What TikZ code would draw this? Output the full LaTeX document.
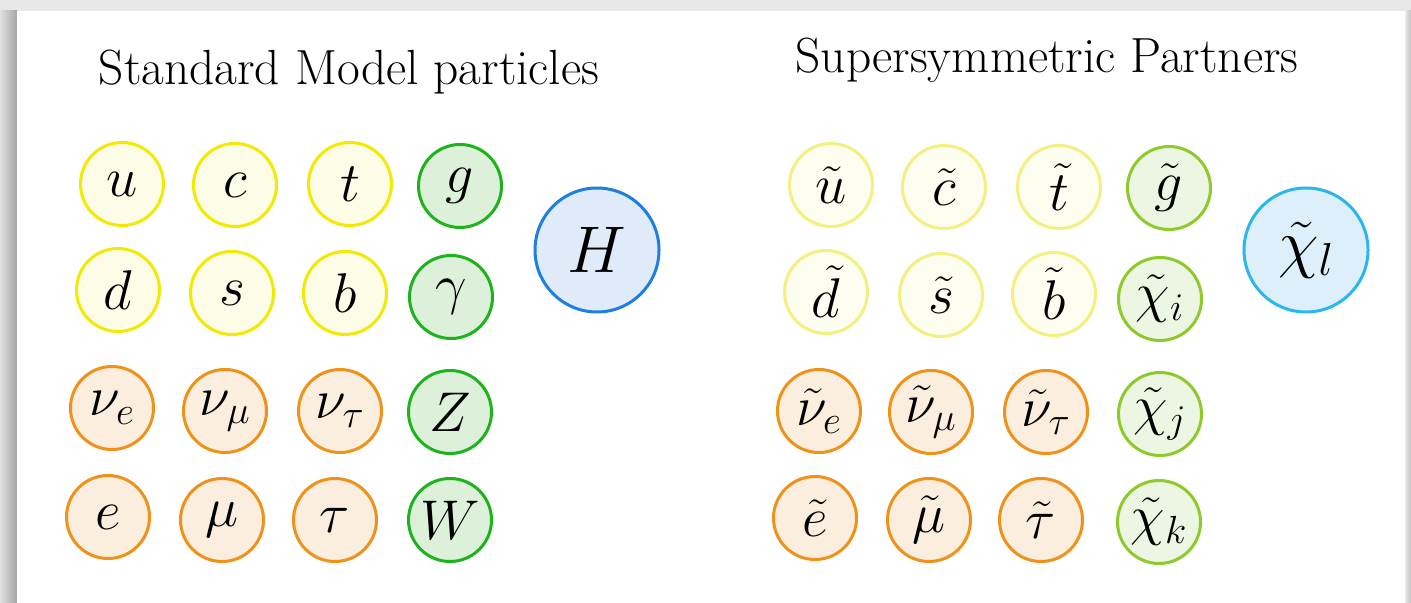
\RequirePackage{fix-cm}
\documentclass[tikz,border=0pt]{standalone}
\usepackage{fontspec}
\definecolor{qline}{HTML}{F2EA00}
\definecolor{qfill}{HTML}{FDFCE6}
\definecolor{bline}{HTML}{1DB31D}
\definecolor{bfill}{HTML}{DDF1DA}
\definecolor{lline}{HTML}{F0921A}
\definecolor{lfill}{HTML}{FBEEDF}
\definecolor{hline}{HTML}{1E7FE0}
\definecolor{hfill}{HTML}{E0EBF9}
\definecolor{sqline}{HTML}{F3EF80}
\definecolor{sqfill}{HTML}{FDFDF0}
\definecolor{sbline}{HTML}{8CCB2A}
\definecolor{sbfill}{HTML}{EDF6E2}
\definecolor{nline}{HTML}{2BB7EA}
\definecolor{nfill}{HTML}{DDEFFA}
\definecolor{outer}{HTML}{E8E8E8}
\begin{document}
\begin{tikzpicture}[x=0.5pt,y=-0.5pt,
  particle/.style={circle, line width=1.5pt, minimum size=41.5pt, inner sep=0pt,
    font=\fontsize{28}{30}\selectfont},
  big/.style={particle, minimum size=62pt, font=\fontsize{33}{35}\selectfont},
  quark/.style={particle, draw=qline, fill=qfill},
  boson/.style={particle, draw=bline, fill=bfill},
  lepton/.style={particle, draw=lline, fill=lfill},
  squark/.style={particle, draw=sqline, fill=sqfill},
  sboson/.style={particle, draw=sbline, fill=sbfill},
  title/.style={font=\fontsize{24.7}{28}\selectfont, inner sep=0pt}]
% background and card
\fill[outer] (0,0) rectangle (1411,603);
\shade[left color=black!12, right color=black!35] (0,11) rectangle (17,603);
\shade[left color=black!8, right color=black!25] (1405,11) rectangle (1411,603);
\fill[white] (17,11) rectangle (1405,603);
% titles
\node[title] (smtitle) at (349,72) {Standard Model particles};
\node[title] (susytitle) at (1047,60) {Supersymmetric Partners};
% Standard Model
\node[quark] (u) at (122,184) {$u$};
\node[quark] (c) at (235,185) {$c$};
\node[quark] (t) at (350,184) {$t$};
\node[boson] (g) at (460,186) {$g$};
\node[quark] (d) at (118,290) {$d$};
\node[quark] (s) at (232,293) {$s$};
\node[quark] (b) at (345,293) {$b$};
\node[boson] (gam) at (451,297) {$\gamma$};
\node[lepton] (nue) at (112,408) {$\nu_e$};
\node[lepton] (num) at (225,411) {$\nu_\mu$};
\node[lepton] (nut) at (340,411) {$\nu_\tau$};
\node[boson] (Z) at (450,412) {$Z$};
\node[lepton] (e) at (108,517) {$e$};
\node[lepton] (mu) at (222,520) {$\mu$};
\node[lepton] (tau) at (335,520) {$\tau$};
\node[boson] (W) at (450,520) {$W$};
\node[big, draw=hline, fill=hfill] (H) at (597,250) {$H$};
% Supersymmetric partners
\node[squark] (su) at (831,185) {$\tilde{u}$};
\node[squark] (sc) at (944,187) {$\tilde{c}$};
\node[squark] (st) at (1059,187) {$\tilde{t}$};
\node[sboson] (sg) at (1169,188) {$\tilde{g}$};
\node[squark] (sd) at (826,292) {$\tilde{d}$};
\node[squark] (ss) at (941,295) {$\tilde{s}$};
\node[squark] (sb) at (1054,294) {$\tilde{b}$};
\node[sboson] (chii) at (1160,299) {$\tilde{\chi}_i$};
\node[lepton] (snue) at (819,411) {$\tilde{\nu}_e$};
\node[lepton] (snum) at (931,412) {$\tilde{\nu}_\mu$};
\node[lepton] (snut) at (1046,412) {$\tilde{\nu}_\tau$};
\node[sboson] (chij) at (1160,414) {$\tilde{\chi}_j$};
\node[lepton] (se) at (815,518) {$\tilde{e}$};
\node[lepton] (smu) at (929,520) {$\tilde{\mu}$};
\node[lepton] (stau) at (1041,520) {$\tilde{\tau}$};
\node[sboson] (chik) at (1159,522) {$\tilde{\chi}_k$};
\node[big, draw=nline, fill=nfill] (chil) at (1306,250) {$\tilde{\chi}_l$};
\useasboundingbox (0,0) rectangle (1411,603);
\end{tikzpicture}
\end{document}
